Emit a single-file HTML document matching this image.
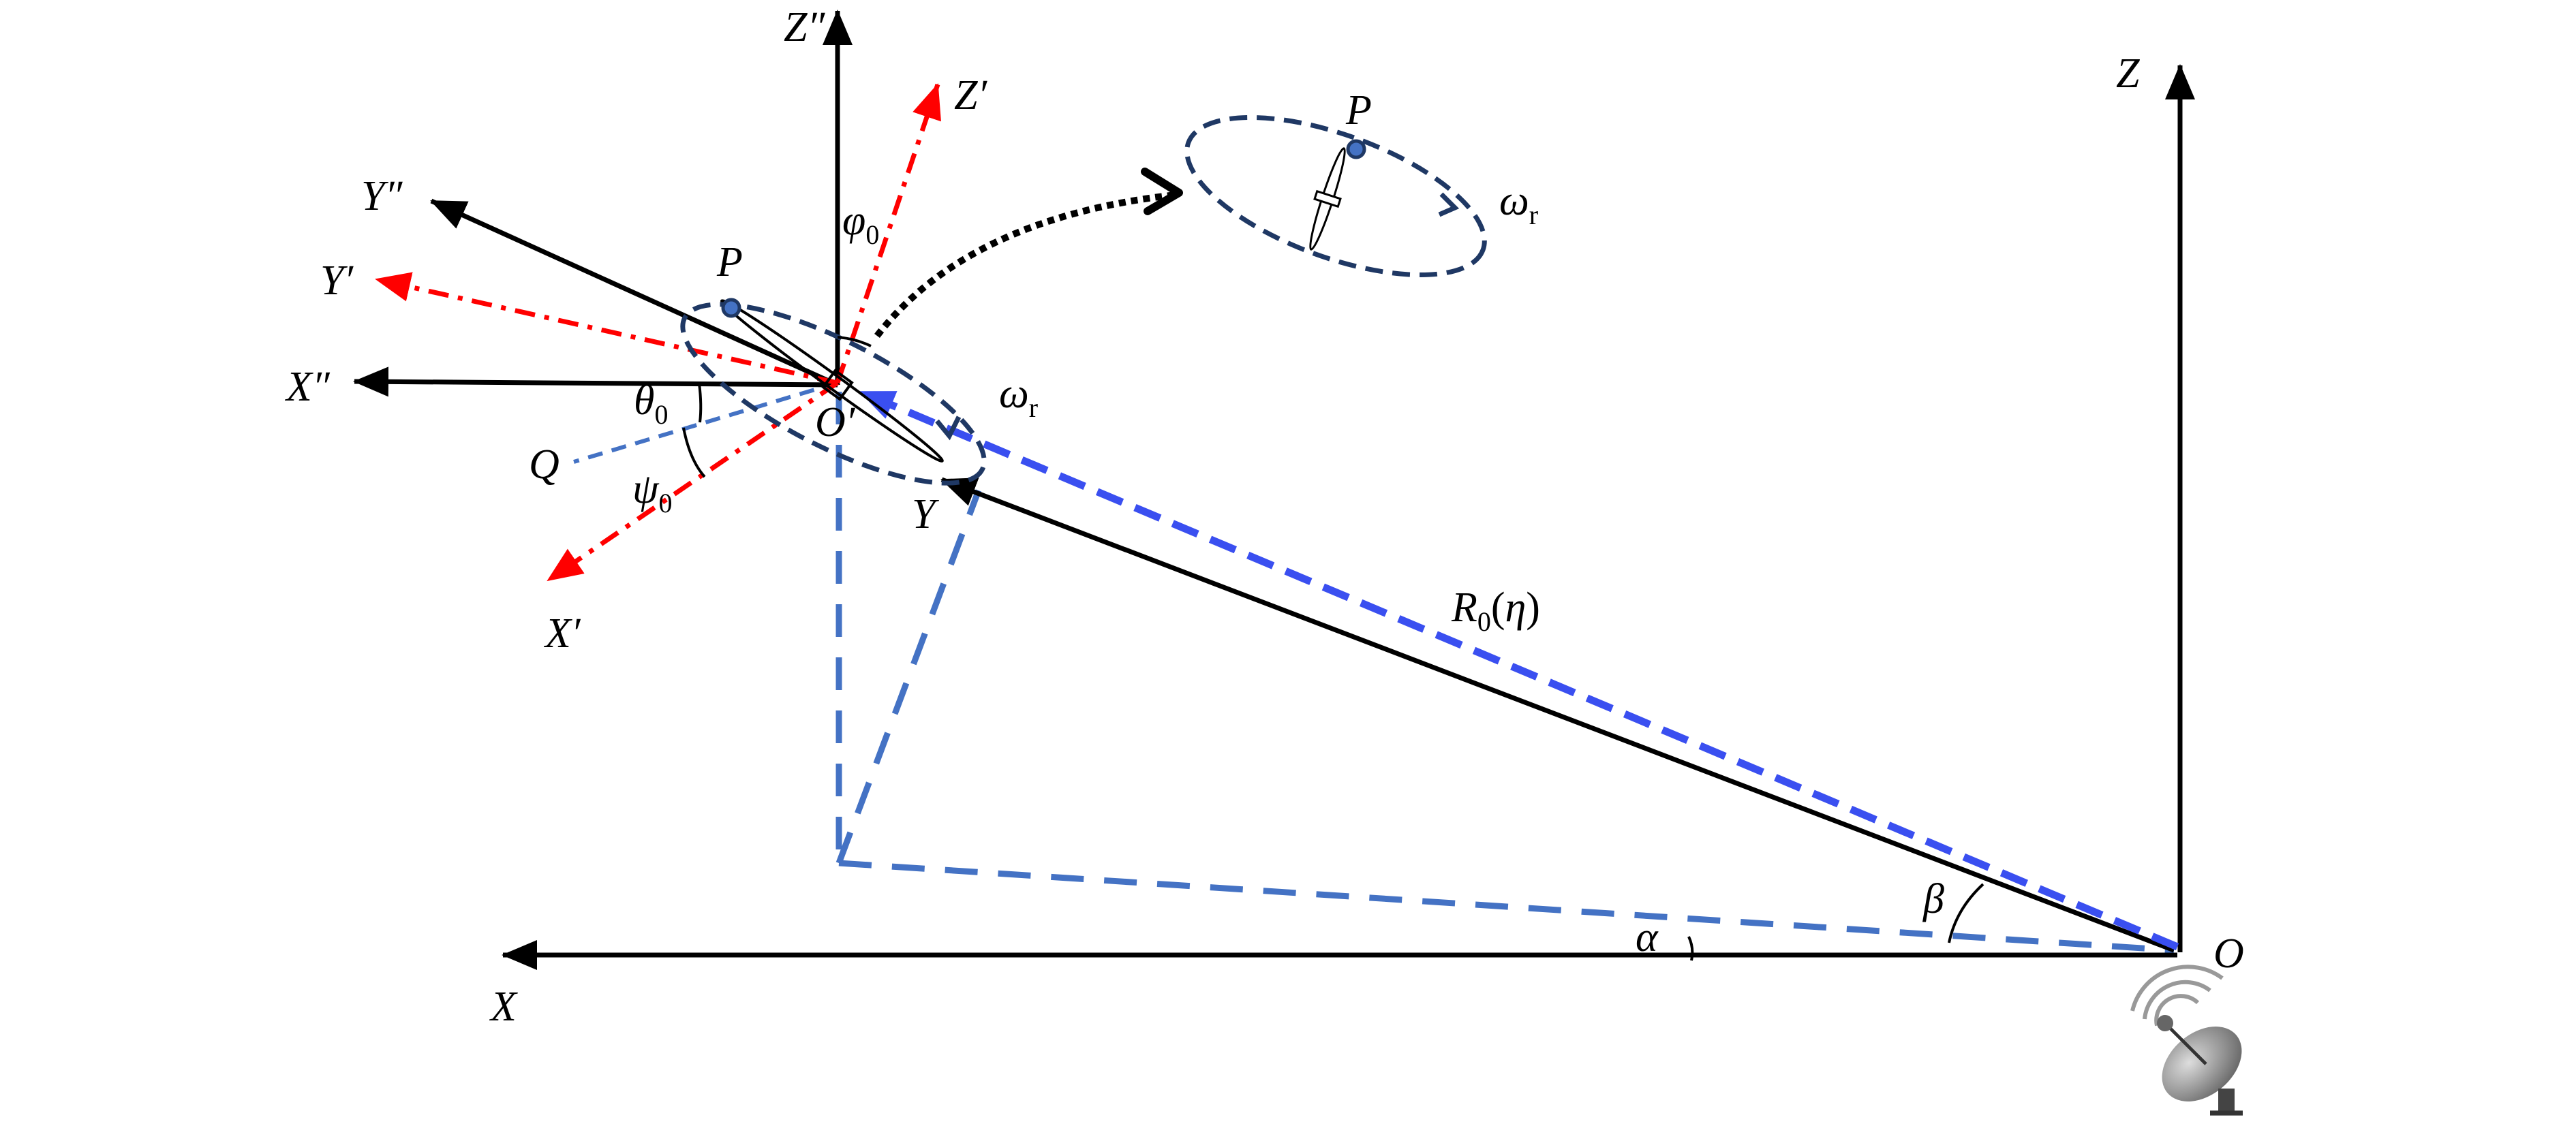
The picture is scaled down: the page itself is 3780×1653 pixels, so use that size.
<!DOCTYPE html>
<html><head><meta charset="utf-8"><style>
html,body{margin:0;padding:0;background:#fff}
svg{display:block}
text{font-family:"Liberation Serif",serif;font-style:italic;fill:#000}
</style></head><body>
<svg width="3780" height="1653" viewBox="0 0 3780 1653" xmlns="http://www.w3.org/2000/svg">
<defs>
<marker id="ab" markerUnits="userSpaceOnUse" markerWidth="60" markerHeight="60" refX="50" refY="25" orient="auto"><path d="M0,3 L52,25 L0,47 Z" fill="#000"/></marker>
<marker id="ar" markerUnits="userSpaceOnUse" markerWidth="60" markerHeight="60" refX="50" refY="25" orient="auto"><path d="M0,3 L52,25 L0,47 Z" fill="#f00"/></marker>
<marker id="abl" markerUnits="userSpaceOnUse" markerWidth="60" markerHeight="60" refX="50" refY="25" orient="auto"><path d="M0,3 L52,25 L0,47 Z" fill="#3a4ff0"/></marker>
<radialGradient id="dish" cx="0.4" cy="0.35" r="0.8"><stop offset="0" stop-color="#ddd"/><stop offset="1" stop-color="#555"/></radialGradient>
</defs>

<g stroke="#4472c4" stroke-width="9" fill="none" stroke-dasharray="48,30">
<line x1="1231" y1="575" x2="1231" y2="1267"/>
<line x1="1231" y1="1267" x2="3190" y2="1395"/>
<line x1="1231" y1="1267" x2="1436" y2="720"/>
</g>
<line x1="1229" y1="562" x2="842" y2="678" stroke="#4472c4" stroke-width="6" stroke-dasharray="22,14"/>

<g stroke="#000" stroke-width="7" fill="none">
<line x1="3199" y1="1398" x2="3199" y2="96" marker-end="url(#ab)"/>
<line x1="3195" y1="1402" x2="738" y2="1402" marker-end="url(#ab)"/>
<line x1="3190" y1="1395" x2="1382" y2="704" marker-end="url(#ab)"/>
<line x1="1229" y1="565" x2="1229" y2="16" marker-end="url(#ab)"/>
<line x1="1229" y1="565" x2="633" y2="295" marker-end="url(#ab)"/>
<line x1="1229" y1="565" x2="520" y2="560" marker-end="url(#ab)"/>
</g>

<g stroke="#f00" stroke-width="7" fill="none" stroke-dasharray="30,14,7,14">
<line x1="1229" y1="562" x2="1376" y2="124" marker-end="url(#ar)"/>
<line x1="1229" y1="562" x2="552" y2="410" marker-end="url(#ar)"/>
<line x1="1229" y1="562" x2="804" y2="852" marker-end="url(#ar)"/>
</g>

<line x1="3195" y1="1390" x2="1262" y2="575" stroke="#3a4ff0" stroke-width="11" stroke-dasharray="40,20" marker-end="url(#abl)"/>

<g transform="translate(1229,565) rotate(36)">
<ellipse cx="-10" cy="0" rx="200" ry="10" fill="none" stroke="#000" stroke-width="4"/>
<rect x="-15" y="-15" width="30" height="30" fill="none" stroke="#000" stroke-width="4"/>
</g>
<ellipse cx="1223" cy="578" rx="245" ry="78" transform="rotate(27 1223 578)" fill="none" stroke="#1f3864" stroke-width="7" stroke-dasharray="26,14"/>
<path d="M1375,618 L1393,640 L1407,612" fill="none" stroke="#1f3864" stroke-width="7"/>
<circle cx="1073" cy="452" r="12" fill="#4472c4" stroke="#1f3864" stroke-width="5"/>

<g stroke="#000" stroke-width="4" fill="none">
<path d="M1229,495 Q1255,497 1278,508"/>
<path d="M1026,563 Q1030,595 1027,620"/>
<path d="M1003,628 Q1012,675 1034,700"/>
<path d="M2478,1375 Q2486,1392 2482,1410"/>
<path d="M2860,1384 Q2870,1335 2910,1298"/>
</g>

<path d="M1287,493 Q1420,320 1725,286" fill="none" stroke="#000" stroke-width="10" stroke-dasharray="10,8"/>
<path d="M1680,252 L1730,283 L1684,310" fill="none" stroke="#000" stroke-width="12" stroke-linecap="round" stroke-linejoin="round"/>

<ellipse cx="1960" cy="288" rx="230" ry="90" transform="rotate(20 1960 288)" fill="none" stroke="#1f3864" stroke-width="7" stroke-dasharray="26,14"/>
<path d="M2115,285 L2135,305 L2112,315" fill="none" stroke="#1f3864" stroke-width="7"/>
<g transform="translate(1948,292) rotate(-72)">
<ellipse cx="0" cy="0" rx="78" ry="8" fill="none" stroke="#000" stroke-width="3"/>
<rect x="-6" y="-18" width="12" height="36" fill="#fff" stroke="#000" stroke-width="3"/>
</g>
<circle cx="1990" cy="219" r="12" fill="#4472c4" stroke="#1f3864" stroke-width="5"/>

<g transform="translate(3105,1400) scale(1.2)">
<path d="M20,70 A70,70 0 0 1 130,30" fill="none" stroke="#999" stroke-width="5"/>
<path d="M35,80 A50,50 0 0 1 115,45" fill="none" stroke="#999" stroke-width="5"/>
<path d="M50,88 A30,30 0 0 1 100,60" fill="none" stroke="#999" stroke-width="5"/>
<ellipse cx="105" cy="135" rx="55" ry="38" transform="rotate(-40 105 135)" fill="url(#dish)"/>
<line x1="60" y1="85" x2="110" y2="135" stroke="#333" stroke-width="4"/>
<circle cx="60" cy="85" r="10" fill="#666"/>
<rect x="125" y="165" width="20" height="30" fill="#444"/>
<rect x="115" y="192" width="40" height="6" fill="#333"/>
</g>

<g font-size="62">
<text x="1150" y="60">Z″</text>
<text x="1400" y="160">Z′</text>
<text x="530" y="308">Y″</text>
<text x="470" y="432">Y′</text>
<text x="420" y="588">X″</text>
<text x="800" y="950">X′</text>
<text x="776" y="702">Q</text>
<text x="1052" y="405">P</text>
<text x="1975" y="182">P</text>
<text x="1338" y="775">Y</text>
<text x="1196" y="640">O′</text>
<text x="3105" y="128">Z</text>
<text x="720" y="1498">X</text>
<text x="3248" y="1420">O</text>
<text x="2400" y="1396">α</text>
<text x="2822" y="1340">β</text>
<text x="930" y="608">θ<tspan font-size="40" font-style="normal" dy="14">0</tspan></text>
<text x="928" y="738">ψ<tspan font-size="40" font-style="normal" dy="14">0</tspan></text>
<text x="1236" y="344">φ<tspan font-size="40" font-style="normal" dy="14">0</tspan></text>
<text x="1466" y="598">ω<tspan font-size="40" font-style="normal" dy="14">r</tspan></text>
<text x="2200" y="315">ω<tspan font-size="40" font-style="normal" dy="14">r</tspan></text>
<text x="2130" y="912">R<tspan font-size="40" font-style="normal" dy="14">0</tspan><tspan font-style="normal" dy="-14">(</tspan>η<tspan font-style="normal">)</tspan></text>
</g>
</svg>
</body></html>
